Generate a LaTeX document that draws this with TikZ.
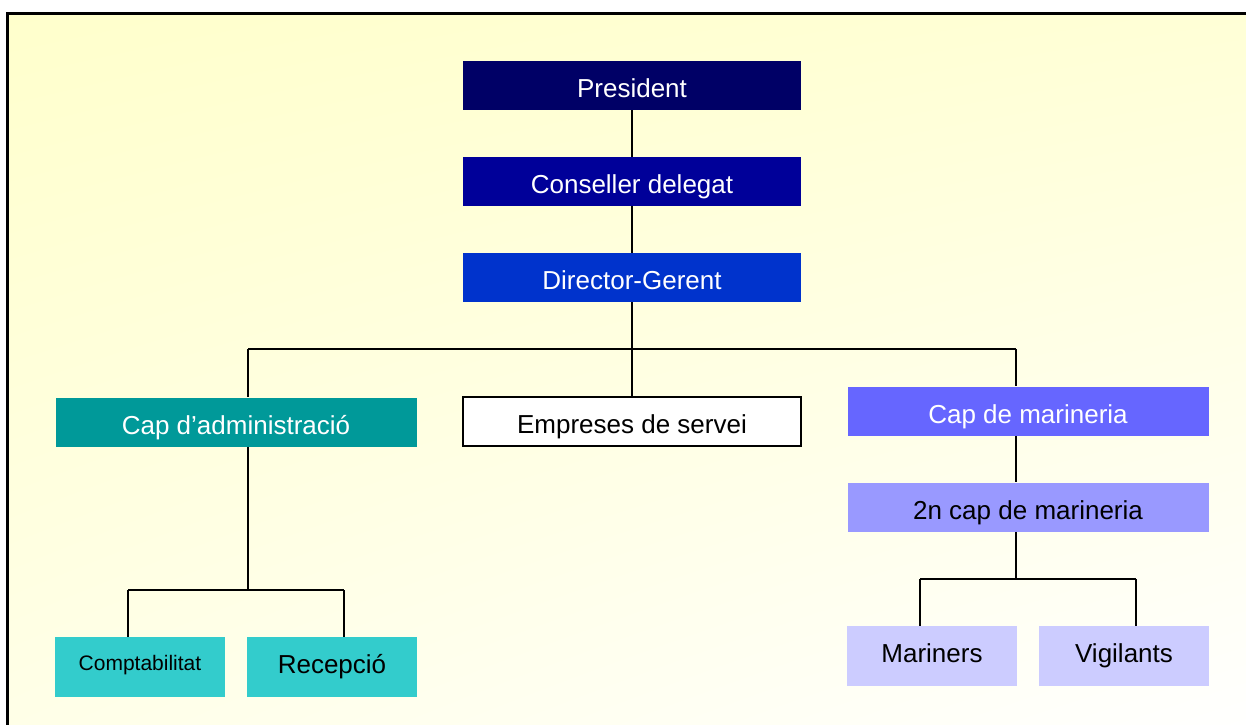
\documentclass[tikz,border=0pt]{standalone}
\usepackage{fontspec}
\setmainfont{Liberation Sans}
\usepackage{tikz}
\usetikzlibrary{positioning,shadings}
\definecolor{bgyellow}{HTML}{FFFFCC}
\definecolor{presblue}{HTML}{000066}
\definecolor{consblue}{HTML}{000099}
\definecolor{dirblue}{HTML}{0033CC}
\definecolor{admteal}{HTML}{009999}
\definecolor{subteal}{HTML}{33CCCC}
\definecolor{marviolet}{HTML}{6666FF}
\definecolor{segviolet}{HTML}{9999FF}
\definecolor{lowviolet}{HTML}{CCCCFF}
\tikzset{%
    unit/.style={%
        minimum width=169pt, minimum height=24.5pt, inner sep=0pt,
        text height=12.4pt, text depth=0pt,
        font=\fontsize{13}{15}\selectfont
    },
    wideunit/.style={unit, minimum width=180.5pt},
    smallunit/.style={unit, minimum width=85pt, minimum height=30pt,
        text height=6.4pt},
    link/.style={line width=1pt}
}

\begin{document}
\begin{tikzpicture}[x=0.5pt,y=-0.5pt]
	\useasboundingbox (0,0) rectangle (1246,724);
	\shade[upper left=bgyellow, upper right=bgyellow!80!white,
	       lower left=bgyellow!45!white, lower right=white]
	       (7.5,13.5) rectangle (1260,740);
	\draw[line width=1.2pt] (1260,13.5) -- (7.5,13.5) -- (7.5,740);

	\node[unit,fill=presblue,text=white] (P) at (632,85.5) {President};
	\node[unit,fill=consblue,text=white] (C) at (632,181.5) {Conseller delegat};
	\node[unit,fill=dirblue,text=white] (D) at (632,277.5) {Director-Gerent};

	\node[wideunit,fill=admteal,text=white] (A) at (236,422) {Cap d’administració};
	\node[unit,fill=white,draw=black,line width=1pt] (E) at (632,421) {Empreses de servei};
	\node[wideunit,fill=marviolet,text=white] (M) at (1028,411) {Cap de marineria};
	\node[wideunit,fill=segviolet] (S) at (1028,507) {2n cap de marineria};

	\node[smallunit,fill=subteal,text height=3.6pt,font=\fontsize{10.5}{12}\selectfont] (CO) at (140,667) {Comptabilitat};
	\node[smallunit,fill=subteal] (R) at (332,667) {Recepció};
	\node[smallunit,fill=lowviolet] (MA) at (932,656) {Mariners};
	\node[smallunit,fill=lowviolet] (V) at (1124,656) {Vigilants};

	\coordinate (busL) at (248,349);
	\coordinate (busR) at (1016,349);
	\coordinate (admL) at (128,590);
	\coordinate (admR) at (344,590);
	\coordinate (marL) at (920,579);
	\coordinate (marR) at (1136,579);

	\draw[link] (P)--(C);
	\draw[link] (C)--(D);
	\draw[link] (D)--(E);
	\draw[link] (busL)--(busR);
	\draw[link] (busL)--(busL |- A.north);
	\draw[link] (busR)--(busR |- M.north);
	\draw[link] (M.south -| busR)--(S.north -| busR);

	\draw[link] (A.south -| busL)--(busL |- admL);
	\draw[link] (admL)--(admR);
	\draw[link] (admL)--(admL |- CO.north);
	\draw[link] (admR)--(admR |- R.north);

	\draw[link] (S.south -| busR)--(busR |- marL);
	\draw[link] (marL)--(marR);
	\draw[link] (marL)--(marL |- MA.north);
	\draw[link] (marR)--(marR |- V.north);
\end{tikzpicture}
\end{document}
